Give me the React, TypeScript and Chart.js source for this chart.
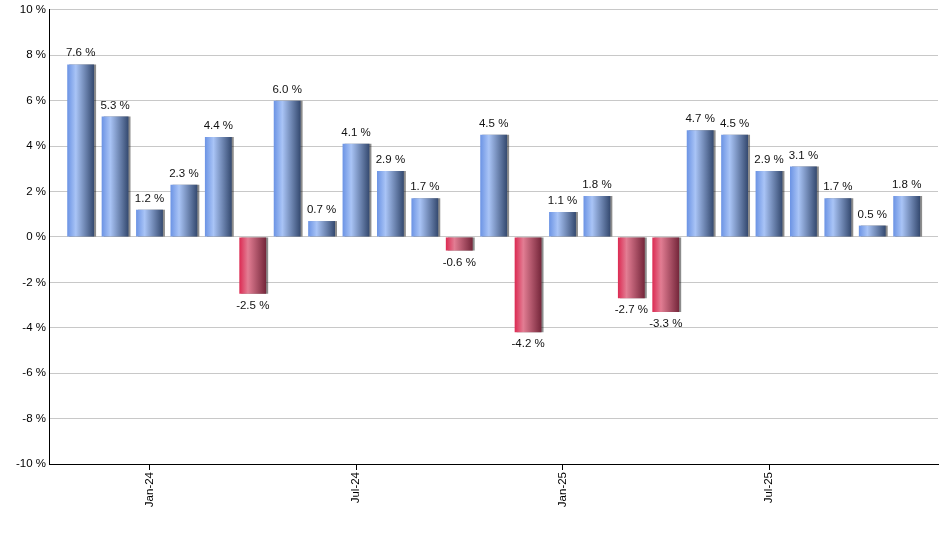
import { useEffect, useRef } from 'react';
import { Chart, registerables } from 'chart.js';

Chart.register(...registerables);

// monthly returns, Nov-23 .. Nov-25
const months = [
  'Nov-23', 'Dec-23', 'Jan-24', 'Feb-24', 'Mar-24', 'Apr-24', 'May-24', 'Jun-24', 'Jul-24',
  'Aug-24', 'Sep-24', 'Oct-24', 'Nov-24', 'Dec-24', 'Jan-25', 'Feb-25', 'Mar-25', 'Apr-25',
  'May-25', 'Jun-25', 'Jul-25', 'Aug-25', 'Sep-25', 'Oct-25', 'Nov-25',
];
const returns = [
  7.6, 5.3, 1.2, 2.3, 4.4, -2.5, 6.0, 0.7, 4.1, 2.9, 1.7, -0.6, 4.5,
  -4.2, 1.1, 1.8, -2.7, -3.3, 4.7, 4.5, 2.9, 3.1, 1.7, 0.5, 1.8,
];
const tickMonths = ['Jan-24', 'Jul-24', 'Jan-25', 'Jul-25'];

const FONT = "'Liberation Sans', Arial, sans-serif";
const FONT_SIZE = 11.5;
const BAR_RATIO = 0.78;

const blueStops = ['#6b93e4', '#a9c4f6', '#34496f'];
const redStops = ['#dc2a52', '#e27d93', '#74263a'];

function barFill(ctx: any) {
  const chart = ctx.chart;
  const xs = chart.scales?.x;
  const v = returns[ctx.dataIndex];
  const stops = v < 0 ? redStops : blueStops;
  if (!xs || ctx.dataIndex === undefined) return stops[0];
  const cx = xs.getPixelForValue(ctx.dataIndex);
  const w = (xs.getPixelForValue(1) - xs.getPixelForValue(0)) * BAR_RATIO;
  if (!isFinite(cx) || !isFinite(w) || w <= 0) return stops[0];
  const g = chart.ctx.createLinearGradient(cx - w / 2, 0, cx + w / 2, 0);
  g.addColorStop(0, stops[0]);
  g.addColorStop(0.32, stops[1]);
  g.addColorStop(1, stops[2]);
  return g;
}

const shadowPlugin = {
  id: 'barShadow',
  beforeDatasetsDraw(chart: any) {
    const c = chart.ctx;
    c.save();
    c.shadowColor = 'rgba(0,0,0,0.45)';
    c.shadowOffsetX = 2;
    c.shadowOffsetY = 0;
    c.shadowBlur = 0;
  },
  afterDatasetsDraw(chart: any) {
    chart.ctx.restore();
  },
};

const valueLabels = {
  id: 'valueLabels',
  afterDatasetsDraw(chart: any) {
    const c = chart.ctx;
    const meta = chart.getDatasetMeta(0);
    c.save();
    c.font = `${FONT_SIZE}px ${FONT}`;
    c.fillStyle = '#111';
    c.textAlign = 'center';
    c.textBaseline = 'alphabetic';
    meta.data.forEach((bar: any, i: number) => {
      const v = returns[i];
      const y = v >= 0 ? bar.y - 8 : bar.y + 15;
      c.fillText(v.toFixed(1) + ' %', bar.x, y);
    });
    c.restore();
  },
};

export default function App() {
  const canvasRef = useRef<HTMLCanvasElement>(null);

  useEffect(() => {
    if (!canvasRef.current) return;
    const chart = new Chart(canvasRef.current, {
      type: 'bar',
      data: {
        datasets: [
          {
            data: returns.map((v, i) => ({ x: i, y: v })),
            backgroundColor: barFill,
            borderWidth: 0,
            categoryPercentage: BAR_RATIO,
            barPercentage: 1,
          },
        ],
      },
      options: {
        animation: false,
        responsive: true,
        maintainAspectRatio: false,
        layout: { padding: { top: 9, right: 2, left: 0, bottom: 0 } },
        plugins: { legend: { display: false }, tooltip: { enabled: false } },
        scales: {
          x: {
            type: 'linear',
            offset: false,
            min: -0.92,
            max: 24.91,
            afterBuildTicks: (s: any) => {
              s.ticks = tickMonths.map((m) => ({ value: months.indexOf(m) }));
            },
            afterFit: (s: any) => {
              s.height = 86;
            },
            grid: { offset: false, drawOnChartArea: false, color: '#000', tickLength: 6 },
            border: { color: '#000', width: 1 },
            ticks: {
              autoSkip: false,
              minRotation: 90,
              maxRotation: 90,
              padding: 2,
              color: '#000',
              font: { family: FONT, size: FONT_SIZE },
              callback: (v: any) => months[v] ?? '',
            },
          },
          y: {
            min: -10,
            max: 10,
            afterFit: (s: any) => {
              s.width = 49;
            },
            grid: { color: '#c8c8c8', drawTicks: false },
            border: { color: '#000', width: 1 },
            ticks: {
              stepSize: 2,
              padding: 3,
              color: '#000',
              font: { family: FONT, size: FONT_SIZE },
              callback: (v: any) => v + ' %',
            },
          },
        },
      },
      plugins: [shadowPlugin, valueLabels],
    });
    return () => chart.destroy();
  }, []);

  return (
    <div style={{ position: 'fixed', left: 0, top: 0, width: 940, height: 550, background: '#fff' }}>
      <canvas ref={canvasRef} />
    </div>
  );
}
